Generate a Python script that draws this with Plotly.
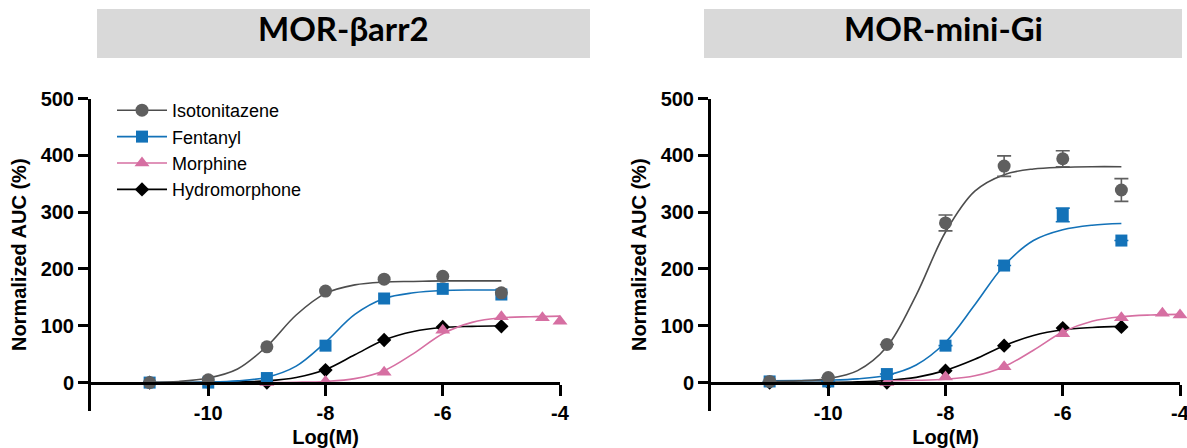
import plotly.graph_objects as go

W, H = 1187, 448

# ---------------- data ----------------
conc_std = [-11, -10, -9, -8, -7, -6, -5]
conc_morphine = [-9, -8, -7, -6, -5, -4.3, -4]

# MOR-βarr2 : measured means
barr_iso = [0, 5, 63, 161, 182, 187, 158]
barr_fen = [0, 0, 8, 65, 148, 165, 155]
barr_mor = [0, 2, 18, 92, 116, 114, 108]
barr_hyd = [0, 0, 0, 22, 75, 98, 99]

# MOR-mini-Gi : measured means and SEM
gi_iso = [2, 9, 67, 281, 381, 394, 339]
gi_iso_err = [0, 0, 0, 14, 18, 14, 20]
gi_fen = [2, 2, 15, 65, 206, 295, 250]
gi_fen_err = [0, 0, 0, 0, 0, 12, 0]
gi_mor = [0, 10, 28, 86, 114, 122, 119]
gi_hyd = [0, 0, 0, 21, 65, 96, 98]

# fitted curves
fit_x = [-11, -10.5, -10, -9.5, -9, -8.5, -8, -7.5, -7, -6.5, -6, -5.5, -5]
fit_x_mor = [-9, -8.5, -8, -7.5, -7, -6.5, -6, -5.5, -5, -4.5, -4]

barr_iso_fit = [0.6, 2, 8, 24, 64, 119, 157, 172, 177, 178, 179, 179, 179]
barr_fen_fit = [0, 0.2, 0.8, 3, 9.5, 29, 71, 120, 148, 158, 162, 163, 163]
barr_hyd_fit = [0, 0.1, 0.3, 1, 3, 9, 23, 49, 75, 90, 97, 99, 100]
barr_mor_fit = [0.2, 0.6, 2, 7, 21, 51, 86, 106, 114, 116, 117]

gi_iso_fit = [2, 3, 7, 21, 63, 154, 265, 337, 366, 376, 379, 380, 380]
gi_fen_fit = [3, 3.4, 4.3, 6.6, 13, 31, 71, 137, 206, 250, 269, 277, 280]
gi_hyd_fit = [0.1, 0.2, 0.5, 1.4, 3.7, 9.2, 21.5, 41, 65, 83, 93, 97, 99]
gi_mor_fit = [3.3, 4, 6, 12, 28, 57, 89, 108, 116, 119, 120]

panel_titles = ["MOR-βarr2", "MOR-mini-Gi"]
drug_names = ["Isotonitazene", "Fentanyl", "Morphine", "Hydromorphone"]
x_tick_vals = [-10, -8, -6, -4]
x_tick_text = ["-10", "-8", "-6", "-4"]
y_tick_vals = [0, 100, 200, 300, 400, 500]
y_tick_text = ["0", "100", "200", "300", "400", "500"]

# ---------------- style ----------------
colors = {"Isotonitazene": "#5f5f5f", "Fentanyl": "#1372b8",
          "Morphine": "#d66fa2", "Hydromorphone": "#000000"}
line_colors = {"Isotonitazene": "#4d4d4d", "Fentanyl": "#1372b8",
               "Morphine": "#d66fa2", "Hydromorphone": "#000000"}
symbols = {"Isotonitazene": "circle", "Fentanyl": "square",
           "Morphine": "triangle-up", "Hydromorphone": "diamond"}
msize = {"Isotonitazene": 13, "Fentanyl": 12, "Morphine": 13, "Hydromorphone": 11}

FONT = "Liberation Sans, Arial, sans-serif"
bold20 = dict(family=FONT, size=20, color="black", weight="bold")

fig = go.Figure()

panels = [
    dict(xa="x", ya="y",
         series={"Isotonitazene": (conc_std, barr_iso, None, fit_x, barr_iso_fit),
                 "Fentanyl": (conc_std, barr_fen, None, fit_x, barr_fen_fit),
                 "Morphine": (conc_morphine, barr_mor, None, fit_x_mor, barr_mor_fit),
                 "Hydromorphone": (conc_std, barr_hyd, None, fit_x, barr_hyd_fit)}),
    dict(xa="x2", ya="y2",
         series={"Isotonitazene": (conc_std, gi_iso, gi_iso_err, fit_x, gi_iso_fit),
                 "Fentanyl": (conc_std, gi_fen, gi_fen_err, fit_x, gi_fen_fit),
                 "Morphine": (conc_morphine, gi_mor, None, fit_x_mor, gi_mor_fit),
                 "Hydromorphone": (conc_std, gi_hyd, None, fit_x, gi_hyd_fit)}),
]

draw_order = ["Hydromorphone", "Morphine", "Fentanyl", "Isotonitazene"]
for p in panels:
    for name in draw_order:
        xs, ys, err, fx, fy = p["series"][name]
        fig.add_trace(go.Scatter(
            x=fx, y=fy, mode="lines", line=dict(color=line_colors[name], width=1.6, shape="spline"),
            xaxis=p["xa"], yaxis=p["ya"], showlegend=False, hoverinfo="skip", cliponaxis=False))
        ey = None
        if err is not None:
            ey = dict(type="data", array=err, visible=True, color=colors[name], thickness=1.6, width=7)
        fig.add_trace(go.Scatter(
            x=xs, y=ys, mode="markers", error_y=ey,
            marker=dict(symbol=symbols[name], size=msize[name], color=colors[name], line=dict(width=0)),
            xaxis=p["xa"], yaxis=p["ya"], showlegend=False, name=name, cliponaxis=False))

# legend entries (line + marker)
for name in drug_names:
    fig.add_trace(go.Scatter(
        x=[None], y=[None], mode="lines+markers", name=name,
        line=dict(color=line_colors[name], width=1.6),
        marker=dict(symbol=symbols[name], size=msize[name], color=colors[name]),
        xaxis="x", yaxis="y", showlegend=True))

# ---------------- layout ----------------
y_range = [-50, 500]
ydom = [1 - 411 / H, 1 - 98.5 / H]
xpos = ydom[0] + (0 - y_range[0]) / (y_range[1] - y_range[0]) * (ydom[1] - ydom[0])


def xaxis_def(dom):
    return dict(domain=dom, range=[-12, -4], anchor="free", position=xpos,
                showline=True, linewidth=3, linecolor="black",
                ticks="outside", ticklen=11, tickwidth=3, tickcolor="black",
                tickvals=x_tick_vals, ticktext=x_tick_text, tickfont=bold20,
                ticklabeloverflow="allow",
                showgrid=False, zeroline=False, automargin=False,
                title=dict(text="Log(M)", font=bold20, standoff=10))


def yaxis_def(anchor):
    return dict(domain=ydom, range=y_range, anchor=anchor,
                showline=True, linewidth=3, linecolor="black",
                ticks="outside", ticklen=10, tickwidth=3, tickcolor="black",
                tickvals=y_tick_vals, ticktext=y_tick_text, tickfont=bold20,
                ticklabeloverflow="allow",
                showgrid=False, zeroline=False, automargin=False,
                title=dict(text="Normalized AUC (%)", font=bold20, standoff=9))


box_x = [(97, 590), (704, 1182)]
shapes = []
annotations = []
for (x0, x1), t in zip(box_x, panel_titles):
    shapes.append(dict(type="rect", xref="paper", yref="paper",
                       x0=x0 / W, x1=x1 / W, y0=1 - 58 / H, y1=1 - 9 / H,
                       fillcolor="#d9d9d9", line=dict(width=0), layer="below"))
    annotations.append(dict(text=t, xref="paper", yref="paper",
                            x=(x0 + x1) / 2 / W, y=1 - 28 / H, xanchor="center", yanchor="middle",
                            showarrow=False,
                            font=dict(family="Lato, Open Sans, sans-serif", size=33,
                                      color="black", weight="bold")))

fig.update_layout(
    width=W, height=H,
    margin=dict(l=0, r=0, t=0, b=0, autoexpand=False),
    paper_bgcolor="white", plot_bgcolor="white",
    xaxis=xaxis_def([91 / W, 560 / W]),
    yaxis=yaxis_def("x"),
    xaxis2=xaxis_def([711 / W, 1180 / W]),
    yaxis2=yaxis_def("x2"),
    shapes=shapes, annotations=annotations,
    showlegend=True,
    legend=dict(x=112 / W, y=1 - 92 / H, xanchor="left", yanchor="top",
                font=dict(family=FONT, size=18, color="black"),
                bgcolor="rgba(0,0,0,0)", itemwidth=50, traceorder="normal",
                tracegroupgap=0),
)

fig.write_html("out.html", config={"displayModeBar": False},
               post_script="document.body.style.margin='0';")
